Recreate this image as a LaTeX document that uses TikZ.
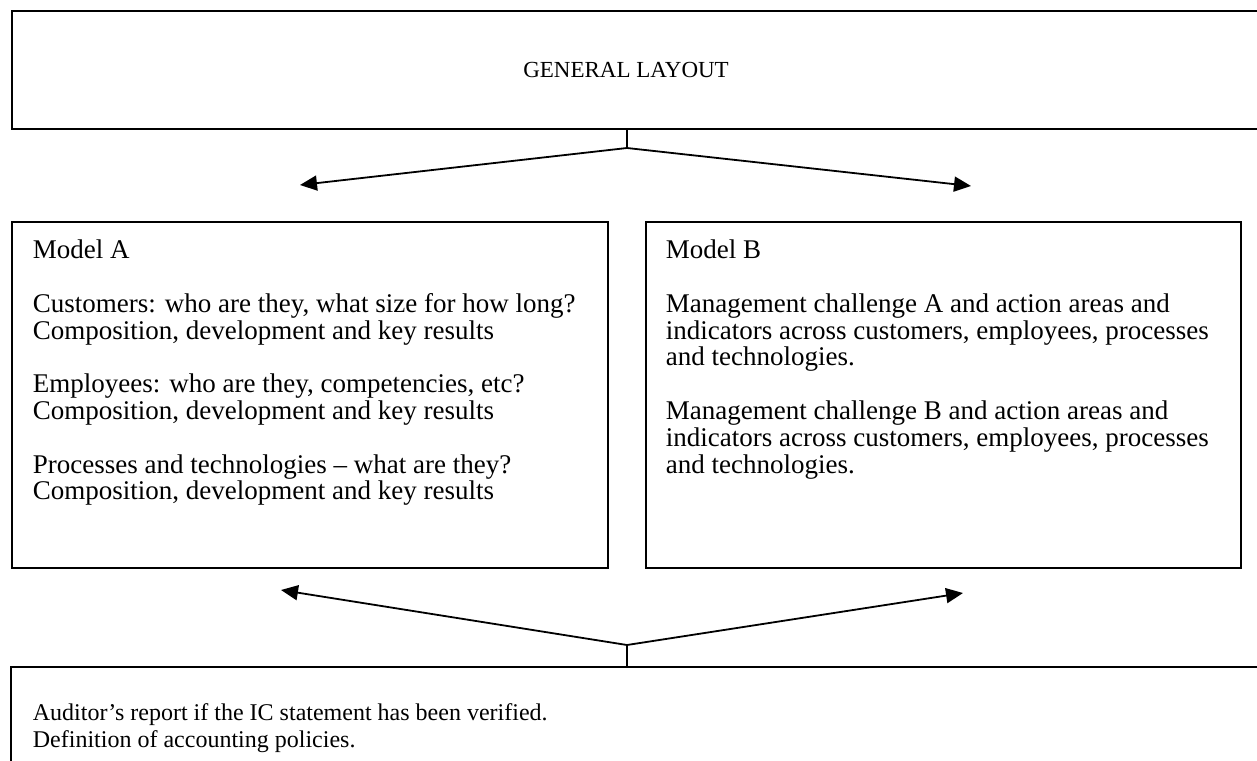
\documentclass[tikz,border=0pt]{standalone}
\usepackage{fontspec}
\setmainfont{Liberation Serif}
\usetikzlibrary{arrows.meta, positioning}

\begin{document}
\begin{tikzpicture}[x=0.5pt, y=-0.5pt, line width=0.9pt,
    panel/.style={draw, rectangle, anchor=north west, inner sep=0pt},
    txt/.style={anchor=north west, inner sep=0pt, align=left,
      font=\fontsize{13.5}{13.4}\selectfont},
    link/.style={-{Triangle[length=8.5pt,width=7.5pt]}}]

  \useasboundingbox (0,0) rectangle (1257,760);

  \node[panel, minimum width=625.5pt, minimum height=59pt] (layout) at (11,10) {};
  \node[panel, minimum width=298pt, minimum height=173pt] (model_a) at (11,221) {};
  \node[panel, minimum width=297.5pt, minimum height=173pt] (model_b) at (645,221) {};
  \node[panel, minimum width=626pt, minimum height=62pt] (audit) at (10,666) {};

  \node[anchor=base, inner sep=0pt, font=\fontsize{11.5}{13.4}\selectfont] (layout_t) at (626,77) {GENERAL LAYOUT};

  \node[txt] (model_a_t) at (32,239) {Model A\\[13.4pt]
    Customers: who are they, what size for how long?\\
    Composition, development and key results\\[13.4pt]
    Employees: who are they, competencies, etc?\\
    Composition, development and key results\\[13.4pt]
    Processes and technologies – what are they?\\
    Composition, development and key results};

  \node[txt] (model_b_t) at (665,239) {Model B\\[13.4pt]
    Management challenge A and action areas and\\
    indicators across customers, employees, processes\\
    and technologies.\\[13.4pt]
    Management challenge B and action areas and\\
    indicators across customers, employees, processes\\
    and technologies.};

  \node[txt, font=\fontsize{12}{13.4}\selectfont] (audit_t) at (32,703) {Auditor’s report if the IC statement has been verified.\\
    Definition of accounting policies.};

  \coordinate (top_fork) at (627,148);
  \coordinate (tip_a) at (300,185);
  \coordinate (tip_b) at (971,186);
  \coordinate (bot_fork) at (627,645);
  \coordinate (tip_c) at (281,590);
  \coordinate (tip_d) at (963,593);

  \draw (layout.south -| top_fork) -- (top_fork);
  \draw[link] (top_fork) -- (tip_a);
  \draw[link] (top_fork) -- (tip_b);
  \draw (audit.north -| bot_fork) -- (bot_fork);
  \draw[link] (bot_fork) -- (tip_c);
  \draw[link] (bot_fork) -- (tip_d);
\end{tikzpicture}
\end{document}
